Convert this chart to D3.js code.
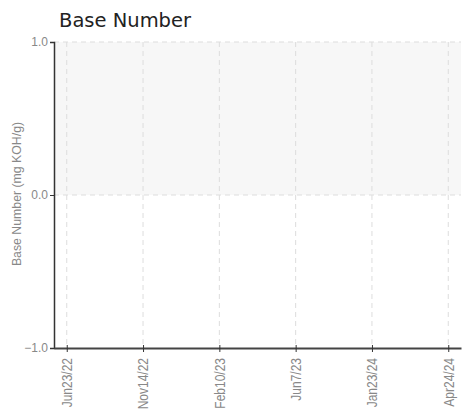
<!DOCTYPE html>
<html>
<head>
<meta charset="utf-8">
<script src="https://cdn.jsdelivr.net/npm/d3@7"></script>
<style>
  body{margin:0;background:#fff;}
  .tick text{fill:#888;font-family:"Liberation Sans",Arial,sans-serif;}
  .grid line{stroke:#ddd;stroke-dasharray:5,4;}
</style>
</head>
<body>
<div id="chart"></div>
<script>
// sample dates (x categories)
const dates=["Jun23/22","Nov14/22","Feb10/23","Jun7/23","Jan23/24","Apr24/24"];
// y axis ticks and domain
const yTicks=[-1.0,0.0,1.0];
// shaded reference band
const bandLow=[0.0];
const bandHigh=[1.0];
// measured values (none recorded)
const values=[];

const W=470,H=413;
const margin={top:42,right:9,bottom:65,left:54};
const width=W-margin.left-margin.right;
const height=H-margin.top-margin.bottom;

const svg=d3.select("#chart").append("svg")
  .attr("width",W).attr("height",H);

svg.append("text")
  .attr("x",59).attr("y",26.5)
  .attr("font-family","DejaVu Sans,sans-serif")
  .attr("font-size",19.5)
  .attr("fill","#222")
  .text("Base Number");

const g=svg.append("g").attr("transform",`translate(${margin.left},${margin.top})`);

const x=d3.scalePoint().domain(dates).range([0,width]).padding(0.167);
const y=d3.scaleLinear().domain([d3.min(yTicks),d3.max(yTicks)]).range([height,0]);

//shaded band
g.append("rect")
  .attr("x",0).attr("width",width)
  .attr("y",y(bandHigh[0]))
  .attr("height",y(bandLow[0])-y(bandHigh[0]))
  .attr("fill","#f7f7f7");

//grid
g.append("g").attr("class","grid")
  .selectAll("line").data(dates).enter().append("line")
  .attr("x1",d=>x(d)).attr("x2",d=>x(d))
  .attr("y1",0).attr("y2",height);
g.append("g").attr("class","grid")
  .selectAll("line").data(yTicks.filter(t=>t>d3.min(yTicks))).enter().append("line")
  .attr("x1",0).attr("x2",width)
  .attr("y1",d=>y(d)).attr("y2",d=>y(d));

//points (if any)
g.selectAll("circle.pt").data(values).enter().append("circle")
  .attr("class","pt")
  .attr("cx",(d,i)=>x(dates[i])).attr("cy",d=>y(d)).attr("r",3).attr("fill","#1f77b4");

//y axis
const yAxis=g.append("g")
  .call(d3.axisLeft(y).tickValues(yTicks).tickFormat(d3.format(".1f")).tickSize(4).tickPadding(2));
yAxis.select(".domain").attr("stroke","#333").attr("stroke-width",1.5);
yAxis.selectAll(".tick line").attr("stroke","#333");
yAxis.selectAll(".tick text").attr("font-size",12).attr("fill","#999");

//x axis
const xAxis=g.append("g").attr("transform",`translate(0,${height})`)
  .call(d3.axisBottom(x).tickSize(4).tickSizeOuter(0));
xAxis.select(".domain").attr("stroke","#444").attr("stroke-width",2);
xAxis.selectAll(".tick line").attr("stroke","#333").attr("y1",-3);
xAxis.selectAll(".tick text")
  .attr("font-size",15)
  .attr("transform","rotate(-90) scale(0.8,1)")
  .attr("text-anchor","end")
  .attr("x",-12.5).attr("y",0).attr("dy","0.33em");

//y label
svg.append("text")
  .attr("transform","rotate(-90)")
  .attr("x",-194).attr("y",21)
  .attr("text-anchor","middle")
  .attr("font-family","Liberation Sans,Arial,sans-serif")
  .attr("font-size",12.3)
  .attr("fill","#888")
  .text("Base Number (mg KOH/g)");
</script>
</body>
</html>
